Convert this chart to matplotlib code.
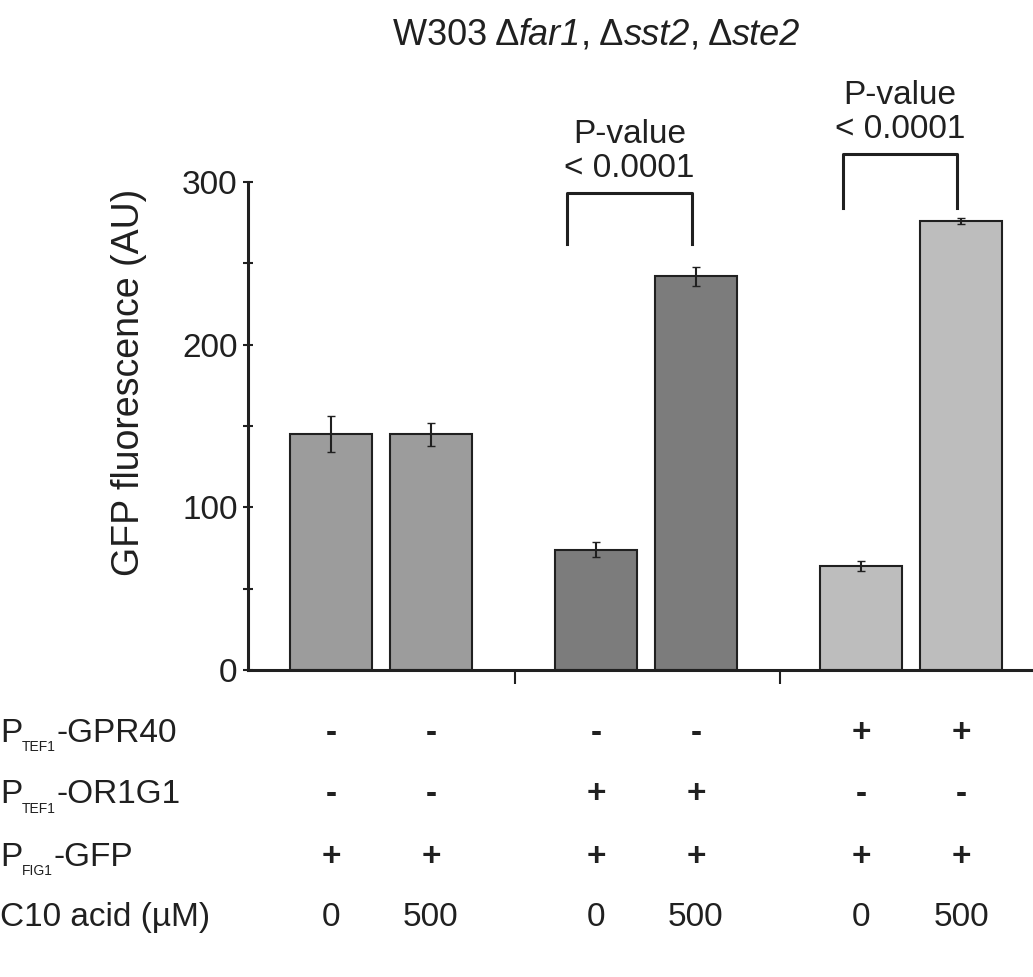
"""GFP reporter bar chart with condition table underneath."""

import matplotlib

matplotlib.use("Agg")
import matplotlib.pyplot as plt
from matplotlib.transforms import blended_transform_factory

plt.rcParams["font.family"] = ["Liberation Sans", "DejaVu Sans"]

# data
gfp_mean = [145, 145, 74, 242, 64, 276]
gfp_err = [11, 7, 4.5, 6, 3, 2]
bar_colors = ["#9c9c9c", "#9c9c9c", "#7c7c7c", "#7c7c7c", "#bdbdbd", "#bdbdbd"]
x_pos = [0, 1, 2.65, 3.65, 5.3, 6.3]
group_sep = [1.84, 4.49]

title_parts = [("W303 \u0394", "normal"), ("far1", "italic"), (", \u0394", "normal"),
               ("sst2", "italic"), (", \u0394", "normal"), ("ste2", "italic")]

row_names = [("P", "TEF1", "-GPR40"), ("P", "TEF1", "-OR1G1"), ("P", "FIG1", "-GFP"), ("C10 acid (\u00b5M)", "", "")]
row_values = [
    ["-", "-", "-", "-", "+", "+"],
    ["-", "-", "+", "+", "-", "-"],
    ["+", "+", "+", "+", "+", "+"],
    ["0", "500", "0", "500", "0", "500"],
]
row_y = [0.2497, 0.1863, 0.1228, 0.0604]

# significance brackets: (x left, x right, leg bottom, top)
brackets = [(2.36, 3.61, 262, 293), (5.12, 6.26, 284, 317)]
bracket_text = "P-value\n< 0.0001"

ink = "#202020"
fs = 24

fig = plt.figure(figsize=(10.33, 9.77), dpi=100)
ax = fig.add_axes([0.240, 0.3142, 0.760, 0.4995])

ax.bar(x_pos, gfp_mean, width=0.82, color=bar_colors, edgecolor=ink, linewidth=1.5, zorder=2)
ax.errorbar(x_pos, gfp_mean, yerr=gfp_err, fmt="none", ecolor=ink, elinewidth=1.5, capsize=3, zorder=3)

ax.set_xlim(-0.83, 7.02)
ax.set_ylim(0, 300)
ax.set_yticks([0, 100, 200, 300])
ax.set_yticks([50, 150, 250], minor=True)
ax.set_xticks(group_sep)
ax.set_xticklabels([])
ax.tick_params(axis="y", which="both", direction="inout", length=7, width=1.5, colors=ink, labelsize=fs, pad=4)
ax.tick_params(axis="x", direction="out", length=10, width=1.5, colors=ink)
for side in ["top", "right"]:
    ax.spines[side].set_visible(False)
for side in ["left", "bottom"]:
    ax.spines[side].set_linewidth(2.2)
    ax.spines[side].set_color(ink)

ax.set_ylabel("GFP fluorescence (AU)", fontsize=27, color=ink)
ax.yaxis.set_label_coords(-0.129, 0.59)

for xl, xr, low, top in brackets:
    ax.plot([xl, xl, xr, xr], [low, top, top, low], color=ink, lw=2.2, clip_on=False)
    ax.text((xl + xr) / 2, top + 6, bracket_text, ha="center", va="bottom", fontsize=fs,
            color=ink, linespacing=1.1)

# title built from pieces so the gene names can be italic
prev = fig.text(0.380, 0.964, title_parts[0][0], ha="left", va="center", fontsize=26,
                color=ink, style=title_parts[0][1])
for txt, style in title_parts[1:]:
    prev = ax.annotate(txt, xy=(1, 0), xycoords=prev, ha="left", va="bottom", fontsize=26,
                       color=ink, style=style, annotation_clip=False)

trans = blended_transform_factory(ax.transData, fig.transFigure)
for (main, sub, rest), vals, y in zip(row_names, row_values, row_y):
    t1 = fig.text(0.0, y, main, ha="left", va="center", fontsize=fs, color=ink)
    if sub:
        t2 = ax.annotate(sub, xy=(1, 0), xycoords=t1, xytext=(0, -4), textcoords="offset points",
                         ha="left", va="bottom", fontsize=10, color=ink, annotation_clip=False)
        ax.annotate(rest, xy=(1, 0.5), xycoords=(t2, t1), ha="left", va="center",
                    fontsize=fs, color=ink, annotation_clip=False)
    for xp, v in zip(x_pos, vals):
        weight = "bold" if v in "+-" else "normal"
        ax.text(xp, y, v, transform=trans, ha="center", va="center", fontsize=fs,
                color=ink, fontweight=weight, clip_on=False)

fig.savefig("out.png", dpi=100)
